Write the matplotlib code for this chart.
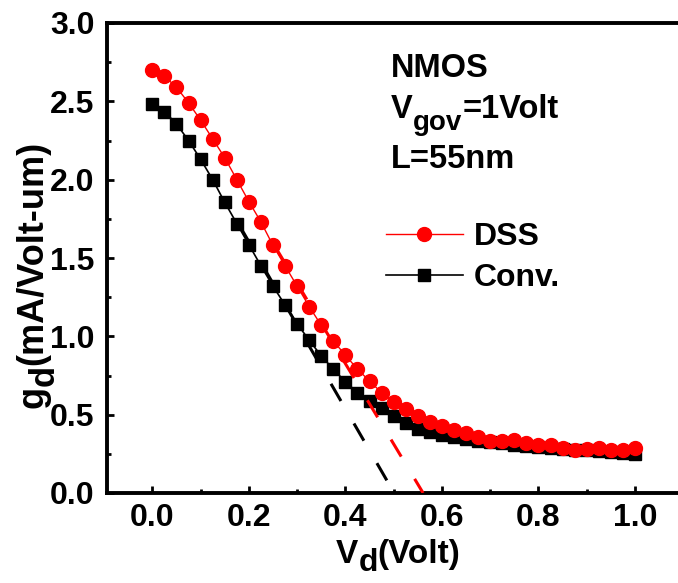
import numpy as np
import matplotlib.pyplot as plt
from matplotlib.ticker import MultipleLocator

plt.rcParams['font.family'] = 'Liberation Sans'
plt.rcParams['font.weight'] = 'bold'

# drain voltage sweep (V) and output conductance (mA/Volt-um)
vd = np.linspace(0.0, 1.0, 41)
gd_dss = [2.70, 2.66, 2.59, 2.49, 2.38, 2.26, 2.14, 2.00, 1.86, 1.73,
          1.58, 1.45, 1.32, 1.19, 1.07, 0.97, 0.88, 0.79, 0.715, 0.64,
          0.58, 0.535, 0.49, 0.455, 0.43, 0.40, 0.38, 0.36, 0.335, 0.33,
          0.34, 0.317, 0.306, 0.306, 0.285, 0.275, 0.28, 0.285, 0.275, 0.275,
          0.285]
gd_conv = [2.48, 2.435, 2.355, 2.25, 2.13, 2.00, 1.855, 1.72, 1.585, 1.45,
           1.32, 1.20, 1.08, 0.975, 0.875, 0.79, 0.71, 0.64, 0.59, 0.54,
           0.49, 0.45, 0.41, 0.39, 0.37, 0.355, 0.343, 0.333, 0.324, 0.316,
           0.309, 0.302, 0.295, 0.289, 0.283, 0.277, 0.272, 0.267, 0.262, 0.257,
           0.252]

# linear extrapolation of the steep part of each curve
tan_conv_x = [0.18, 0.501]
tan_conv_y = [1.71, 0.0]
tan_dss_x = [0.25, 0.561]
tan_dss_y = [1.595, 0.0]

W, H = 678, 583
fig = plt.figure(figsize=(W / 100, H / 100), dpi=100)
# right edge runs past the figure so the right spine is cut off
ax = fig.add_axes([107 / W, 90 / H, 610 / W, 470 / H])

l_conv, = ax.plot(vd, gd_conv, color='black', lw=1.2, marker='s', ms=9,
                  label='Conv.', zorder=3)
l_dss, = ax.plot(vd, gd_dss, color='red', lw=1.0, marker='o', ms=10,
                 label='DSS', zorder=4)
ax.plot(tan_conv_x, tan_conv_y, color='black', lw=2.2, dashes=(6.5, 8.5), zorder=5)
ax.plot(tan_dss_x, tan_dss_y, color='red', lw=2.2, dashes=(6.5, 8.5), zorder=5)

ax.set_xlim(-0.094, 1.17)
ax.set_ylim(0, 3.0)
ax.xaxis.set_major_locator(MultipleLocator(0.2))
ax.xaxis.set_minor_locator(MultipleLocator(0.1))
ax.yaxis.set_major_locator(MultipleLocator(0.5))
ax.yaxis.set_minor_locator(MultipleLocator(0.25))
ax.xaxis.set_major_formatter('{x:.1f}')
ax.yaxis.set_major_formatter('{x:.1f}')
ax.tick_params(which='both', direction='in', width=2, top=False, right=False)
ax.tick_params(which='major', length=5, labelsize=23, pad=7)
ax.tick_params(axis='y', which='major', pad=9)
ax.tick_params(which='minor', length=3)
for lab in ax.get_xticklabels() + ax.get_yticklabels():
    lab.set_fontweight('bold')
for side in ['left', 'bottom', 'top']:
    ax.spines[side].set_linewidth(2.8)
ax.spines['right'].set_visible(False)


def chain(first, pieces):
    # place text pieces one after another, each shifted by dy points
    prev = first
    for s, size, dy, anchor, rot in pieces:
        prev = ax.annotate(s, xy=anchor, xycoords=prev, xytext=dy,
                           textcoords='offset points', fontsize=size,
                           fontweight='bold', rotation=rot,
                           ha='left', va='bottom')
    return prev


def to_data(px, py):
    return (px - 152) / 481, (493 - py) / 156.7


# condition labels
ax.text(*to_data(390, 77), 'NMOS', fontsize=23.5, fontweight='bold', va='baseline')
tv = ax.text(*to_data(390, 118), 'V', fontsize=23.5, fontweight='bold', va='baseline')
chain(tv, [('gov', 20, (0, -8), (1, 0), 0), ('=1Volt', 23.5, (0, 8), (1, 0), 0)])
ax.text(*to_data(390, 168), 'L=55nm', fontsize=23.5, fontweight='bold', va='baseline')

# x axis title
tx = fig.text(336 / W, 1 - 563 / H, 'V', fontsize=24, fontweight='bold', va='baseline')
chain(tx, [('d', 23, (0, -6), (1, 0), 0), ('(Volt)', 24, (0, 6), (1, 0), 0)])

# y axis title, written bottom to top
ty = fig.text(15 / W, 1 - 408 / H, 'g', fontsize=26, fontweight='bold',
              rotation=90, ha='left', va='bottom')
chain(ty, [('d', 25, (9, 0), (0, 1), 90), ('(mA/Volt-um)', 26, (-9, 0), (0, 1), 90)])

ax.legend([l_dss, l_conv], ['DSS', 'Conv.'], loc='upper left',
          bbox_to_anchor=(386 / W, 1 - 222 / H), bbox_transform=fig.transFigure,
          frameon=False, handlelength=2.4, handletextpad=0.35, labelspacing=0.35,
          borderpad=0, borderaxespad=0, prop={'weight': 'bold', 'size': 23})

fig.savefig('out.png', dpi=100)
